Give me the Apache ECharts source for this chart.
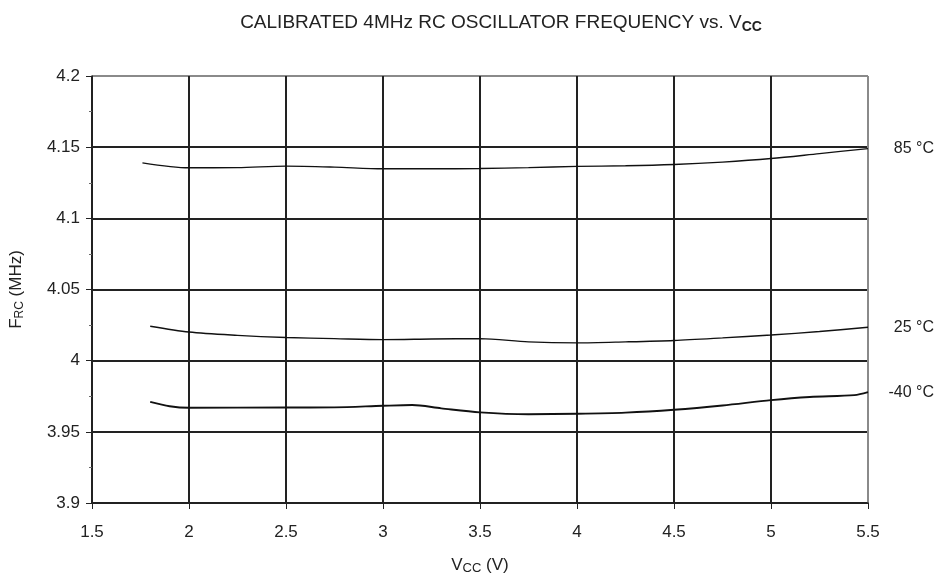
<!DOCTYPE html>
<html>
<head>
<meta charset="utf-8">
<script src="https://cdn.jsdelivr.net/npm/echarts@6/dist/echarts.min.js"></script>
<style>
  html, body { margin: 0; padding: 0; background: #fff; }
  #chart { width: 939px; height: 582px; }
</style>
</head>
<body>
<div id="chart"></div>
<script>
// curve data: [Vcc (V), F (MHz)]
const curve85 = [
  [1.76, 4.139], [2, 4.1355], [2.25, 4.1356], [2.5, 4.1367], [2.75, 4.136],
  [3, 4.1348], [3.25, 4.1348], [3.5, 4.135], [3.75, 4.1356], [4, 4.1365],
  [4.25, 4.1369], [4.5, 4.1378], [4.75, 4.1395], [5, 4.142], [5.25, 4.1455], [5.5, 4.149]
]
const curve25 = [
  [1.8, 4.0242], [2, 4.0201], [2.25, 4.0178], [2.5, 4.0163], [2.75, 4.0155],
  [3, 4.0148], [3.25, 4.0152], [3.5, 4.0155], [3.75, 4.0132], [4, 4.0125],
  [4.25, 4.0132], [4.5, 4.0142], [4.75, 4.016], [5, 4.018], [5.25, 4.0205], [5.5, 4.0235]
]
const curveM40 = [
  [1.8, 3.9711], [1.9, 3.968], [2, 3.9669], [2.5, 3.9671], [2.75, 3.9672],
  [3, 3.9683], [3.15, 3.9688], [3.3, 3.9665], [3.5, 3.9637], [3.75, 3.9624],
  [4, 3.9627], [4.25, 3.9635], [4.5, 3.9655], [4.75, 3.9685], [5, 3.9723],
  [5.2, 3.9745], [5.43, 3.9758], [5.5, 3.9779]
]
const seriesNames = ['85 °C', '25 °C', '-40 °C']

const font = 'Liberation Sans, Arial, sans-serif'
const dark = '#222'
const gray = '#8a8a8a'

const chart = echarts.init(document.getElementById('chart'))

const mkSeries = (name, data, width) => ({
  type: 'line',
  name: name,
  data: data,
  smooth: 0.3,
  showSymbol: false,
  symbol: 'none',
  lineStyle: { color: '#111', width: width },
  endLabel: {
    show: true,
    formatter: '{a}',
    color: '#222',
    fontFamily: font,
    fontSize: 16,
    align: 'right',
    distance: 0,
    offset: [66, 0],
  },
  z: 5,
})

const option = {
  animation: false,
  title: {
    text: 'CALIBRATED 4MHz RC OSCILLATOR FREQUENCY vs. V{s|CC}',
    left: 496,
    textAlign: 'center',
    top: 7,
    textStyle: {
      fontFamily: font,
      fontSize: 19,
      fontWeight: 'normal',
      color: '#222',
      rich: {
        s: { fontFamily: font, fontSize: 14, fontWeight: 'bold', color: '#222', padding: [8, 0, 0, 0] },
      },
    },
  },
  grid: { left: 90, right: 71, top: 76, bottom: 79, containLabel: false },
  xAxis: {
    type: 'value',
    min: 1.5,
    max: 5.5,
    interval: 0.5,
    name: 'V{s|CC} (V)',
    nameLocation: 'middle',
    nameGap: 52,
    nameTextStyle: {
      fontFamily: font, fontSize: 17, color: '#222',
      rich: { s: { fontFamily: font, fontSize: 13, color: '#222', padding: [7, 0, 0, 0] } },
    },
    axisLine: { show: true, lineStyle: { color: dark, width: 1.5 } },
    axisTick: { show: true, inside: false, length: 6, lineStyle: { color: dark } },
    axisLabel: { fontFamily: font, fontSize: 17, color: '#222', margin: 21 },
    splitLine: {
      show: true,
      lineStyle: { color: [dark, dark, dark, dark, dark, dark, dark, dark, gray], width: 2 },
    },
  },
  yAxis: {
    type: 'value',
    min: 3.9,
    max: 4.2,
    interval: 0.05,
    name: 'F{s|RC} (MHz)',
    nameLocation: 'middle',
    nameGap: 66,
    nameTextStyle: {
      fontFamily: font, fontSize: 17, color: '#222',
      rich: { s: { fontFamily: font, fontSize: 12, color: '#222', padding: [7, 0, 0, 0] } },
    },
    axisLine: { show: true, lineStyle: { color: dark, width: 1.5 } },
    axisTick: { show: true, inside: false, length: 6, lineStyle: { color: dark } },
    minorTick: { show: true, splitNumber: 2, length: 3, lineStyle: { color: '#666' } },
    axisLabel: {
      fontFamily: font, fontSize: 17, color: '#222', margin: 12,
      formatter: (v) => String(Math.round(v * 100) / 100),
    },
    splitLine: {
      show: true,
      lineStyle: { color: [dark, dark, dark, dark, dark, dark, gray], width: 2 },
    },
  },
  series: [
    mkSeries(seriesNames[0], curve85, 1.4),
    mkSeries(seriesNames[1], curve25, 1.4),
    mkSeries(seriesNames[2], curveM40, 1.9),
  ],
}

chart.setOption(option)
</script>
</body>
</html>
